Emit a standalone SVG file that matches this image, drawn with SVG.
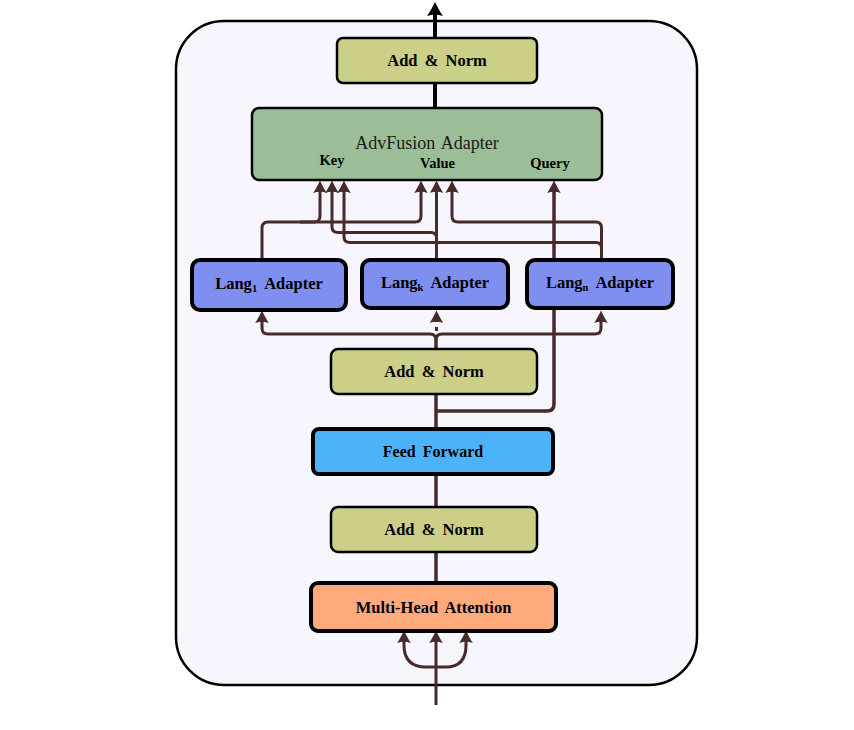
<svg xmlns="http://www.w3.org/2000/svg" width="854" height="730" viewBox="0 0 854 730">
<style>
.lbl{font-family:"Liberation Serif","DejaVu Serif",serif;font-weight:bold;text-anchor:middle;fill:#000}
.an{fill:#cbcf88;stroke:#000;stroke-width:2.5}
.thick{stroke:#000;stroke-width:4}
.c{fill:none;stroke:#472a2a;stroke-width:3}
.ca{fill:none;stroke:#472a2a;stroke-width:3;marker-end:url(#ah)}
</style>
<defs>
<marker id="ah" markerUnits="userSpaceOnUse" viewBox="0 0 12 12" markerWidth="13.5" markerHeight="13.5" refX="3.5" refY="6" orient="auto">
<path d="M11,6 C8,4.5 3,2 0,0 Q2,6 0,12 C3,10 8,7.5 11,6Z" fill="#472a2a"/>
</marker>
<marker id="ahk" markerUnits="userSpaceOnUse" viewBox="0 0 15 16" markerWidth="15" markerHeight="16" refX="3" refY="8" orient="auto">
<path d="M14,8 C10,6 4,3 0,0 Q2.5,8 0,16 C4,13 10,10 14,8Z" fill="#000"/>
</marker>
</defs>
<rect id="container" x="176" y="21" width="521" height="664" rx="48" fill="#f7f5fe" stroke="#000" stroke-width="2.5"/>
<g id="connectors">
<path d="M435,38 V13" fill="none" stroke="#000" stroke-width="4" marker-end="url(#ahk)"/>
<path d="M435,83 V108" fill="none" stroke="#000" stroke-width="4"/>
<path class="ca" d="M262,259 V228 Q262,222 268,222 H314 Q320,222 320,216 V189"/>
<path class="ca" d="M300,222 H415 Q421,222 421,216 V189"/>
<path class="ca" d="M436.5,259 V189"/>
<path class="ca" d="M436.5,259 V238 Q436.5,232.5 431,232.5 H338 Q332,232.5 332,227 V189"/>
<path class="ca" d="M601.5,259 V228 Q601.5,222 596,222 H458 Q452,222 452,216 V189"/>
<path class="ca" d="M601.5,259 V248 Q601.5,242.5 596,242.5 H350 Q344,242.5 344,237 V189"/>
<path class="ca" style="stroke-width:3.5" d="M436,411 H547 Q554,411 554,404 V189"/>
<path class="ca" d="M436,349 V340 Q436,334 430,334 H268 Q262,334 262,328 V319"/>
<path class="ca" d="M436,349 V340 Q436,334 442,334 H595 Q601,334 601,328 V319"/>
<path class="c" d="M436.5,327 V331"/>
<path class="ca" d="M436.5,322 V319"/>
<path class="c" style="stroke-width:3.5" d="M436,394 V429 M436,474 V507 M436,552 V583"/>
<path class="ca" d="M436,705 V639"/>
<path class="ca" d="M436,667 H426 Q404,667 404,645 V639"/>
<path class="ca" d="M436,667 H446 Q466,667 466,645 V639"/>
</g>
<g id="addnorm-top">
<rect class="an" x="337" y="38" width="200" height="45" rx="6"/>
<text class="lbl" x="437" y="66" font-size="16.5" word-spacing="3">Add &amp; Norm</text>
</g>
<g id="advfusion">
<rect x="252" y="108" width="350" height="72" rx="7" fill="#9bbd97" stroke="#000" stroke-width="2.5"/>
<text x="427" y="149" font-family="'Liberation Serif','DejaVu Serif',serif" font-size="18" text-anchor="middle" fill="#1a1a1a" word-spacing="2">AdvFusion Adapter</text>
<text class="lbl" x="332" y="165" font-size="14.5">Key</text>
<text class="lbl" x="437.5" y="168" font-size="14.5">Value</text>
<text class="lbl" x="550" y="168" font-size="14.5">Query</text>
</g>
<g id="lang1">
<rect x="192" y="260" width="154" height="50" rx="8" fill="#7f8ff0" class="thick"/>
<text class="lbl" x="269" y="289" font-size="16.5">Lang<tspan font-size="10.5" dy="3">1</tspan><tspan dy="-3" dx="7">Adapter</tspan></text>
</g>
<g id="langk">
<rect x="362" y="260" width="146" height="48" rx="8" fill="#7f8ff0" class="thick"/>
<text class="lbl" x="435" y="288" font-size="16.5">Lang<tspan font-size="10.5" dy="3">k</tspan><tspan dy="-3" dx="7">Adapter</tspan></text>
</g>
<g id="langn">
<rect x="527" y="260" width="146" height="48" rx="8" fill="#7f8ff0" class="thick"/>
<text class="lbl" x="600" y="288" font-size="16.5">Lang<tspan font-size="10.5" dy="3">n</tspan><tspan dy="-3" dx="7">Adapter</tspan></text>
</g>
<g id="addnorm-mid">
<rect class="an" x="331" y="349" width="206" height="45" rx="7"/>
<text class="lbl" x="434" y="377" font-size="16.5" word-spacing="3">Add &amp; Norm</text>
</g>
<g id="feedforward">
<rect x="313" y="429" width="240" height="45" rx="6" fill="#4cb3fb" class="thick"/>
<text class="lbl" x="433" y="457" font-size="16" word-spacing="3">Feed Forward</text>
</g>
<g id="addnorm-low">
<rect class="an" x="331" y="507" width="206" height="45" rx="7"/>
<text class="lbl" x="434" y="535" font-size="16.5" word-spacing="3">Add &amp; Norm</text>
</g>
<g id="mha">
<rect x="311" y="583" width="245" height="48" rx="7" fill="#ffaa7d" class="thick"/>
<text class="lbl" x="433.5" y="613" font-size="16.5" word-spacing="3">Multi-Head Attention</text>
</g>
</svg>
